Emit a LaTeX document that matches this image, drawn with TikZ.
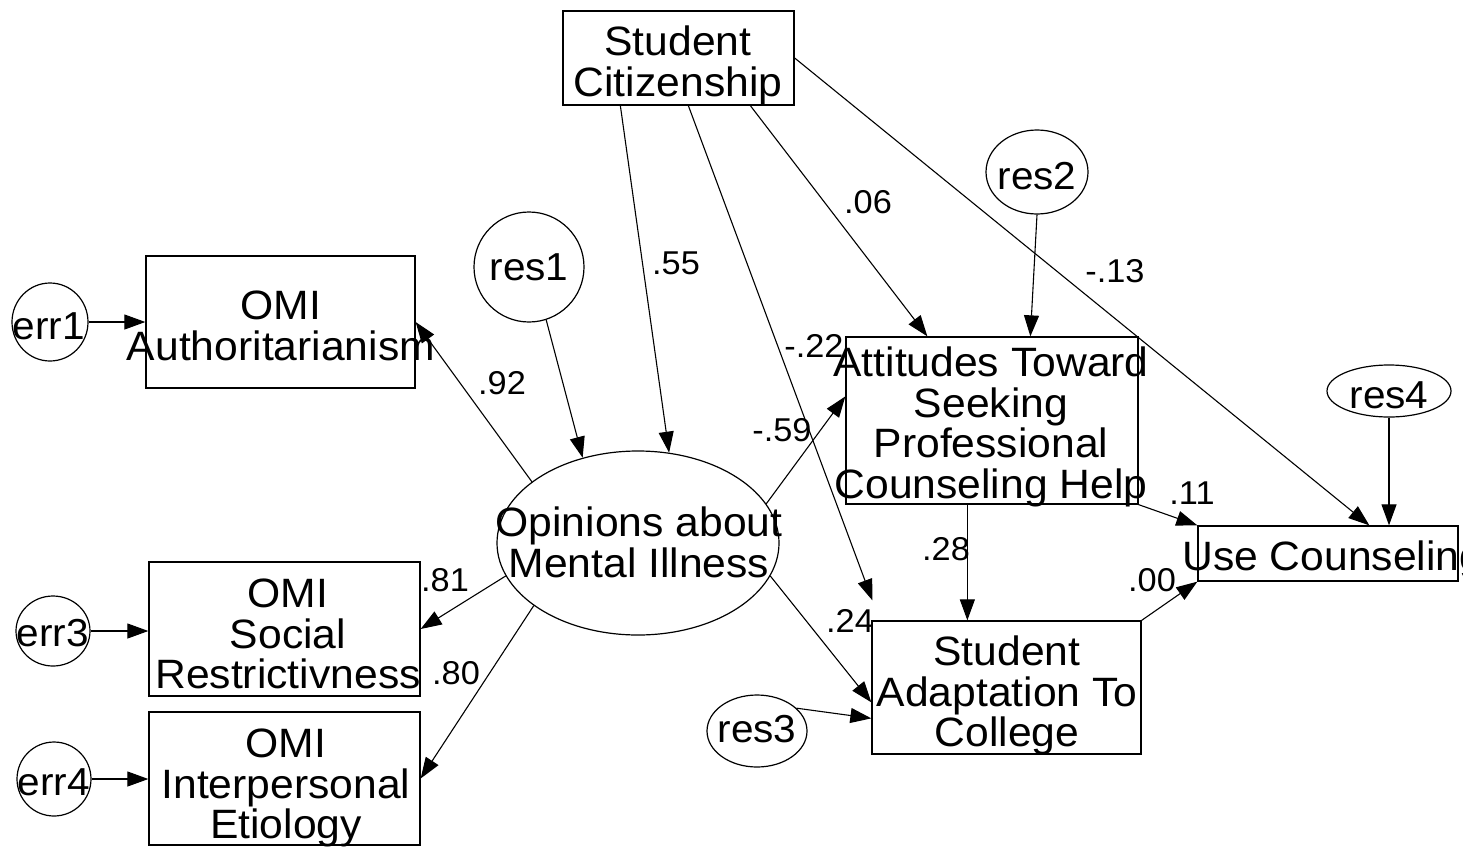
\documentclass[tikz,border=0pt]{standalone}
\usepackage{fontspec}
\setmainfont{Liberation Sans}
\newfontfamily\widesans[FakeStretch=1.04]{Liberation Sans}
\usetikzlibrary{arrows.meta,shapes.geometric,calc}
\begin{document}
\begin{tikzpicture}[x=1pt,y=-1pt,
  arr/.style={-{Triangle[length=21pt,width=15pt]}, line width=1.1pt},
  box/.style={draw, rectangle, inner sep=0pt, line width=1.3pt},
  oval/.style={draw, ellipse, inner sep=0pt, line width=1.2pt},
  boxtext/.style={inner sep=0pt, align=center, anchor=north, font=\widesans\fontsize{41}{40.5}\selectfont},
  ovaltext/.style={inner sep=0pt, font=\widesans\fontsize{39}{39}\selectfont},
  coef/.style={inner sep=0pt, font=\widesans\fontsize{33}{33}\selectfont},
]
\useasboundingbox (0,0) rectangle (1479,846);

% observed variables
\node[box, minimum width=231, minimum height=94]  (cit)   at (678.5,58)   {};
\node[box, minimum width=269, minimum height=132] (auth)  at (280.5,322)  {};
\node[box, minimum width=271, minimum height=134] (soc)   at (284.5,629)  {};
\node[box, minimum width=271, minimum height=133] (inter) at (284.5,778.5){};
\node[box, minimum width=292, minimum height=167] (att)   at (992,420.5)  {};
\node[box, minimum width=269, minimum height=133] (adapt) at (1006.5,687.5){};
\node[box, minimum width=260, minimum height=55]  (use)   at (1328,553.5) {};

% latent variable and residuals
\node[oval, minimum width=282, minimum height=184] (opin) at (638,543)  {};
\node[oval, minimum width=110, minimum height=110] (res1) at (529,267)  {};
\node[oval, minimum width=102, minimum height=84]  (res2) at (1037,172) {};
\node[oval, minimum width=100, minimum height=72]  (res3) at (757,731)  {};
\node[oval, minimum width=124, minimum height=52]  (res4) at (1389,391) {};
\node[oval, minimum width=76,  minimum height=78]  (err1) at (50,322)   {};
\node[oval, minimum width=74,  minimum height=70]  (err3) at (53,631)   {};
\node[oval, minimum width=74,  minimum height=74]  (err4) at (54,779)   {};

% box labels
\node[boxtext] (citT)   at (678,26)   {Student\\Citizenship};
\node[boxtext] (authT)  at (281,291)  {OMI\\Authoritarianism};
\node[boxtext] (socT)   at (288,579)  {OMI\\Social\\Restrictivness};
\node[boxtext] (interT) at (286,729)  {OMI\\Interpersonal\\Etiology};
\node[boxtext] (attT)   at (991,347)  {Attitudes Toward\\Seeking\\Professional\\Counseling Help};
\node[boxtext] (adaptT) at (1007,636) {Student\\Adaptation To\\College};
\node[boxtext] (opinT)  at (639,507)  {Opinions about\\Mental Illness};
\begin{scope}
  \clip (1150,520) rectangle (1462,600);
  \node[boxtext, anchor=north west] (useT) at (1182,541) {Use Counseling};
\end{scope}

% residual labels
\node[ovaltext] (err1T) at (49,326)   {err1};
\node[ovaltext] (err3T) at (53,633)   {err3};
\node[ovaltext] (err4T) at (54,782)   {err4};
\node[ovaltext] (res1T) at (529,267)  {res1};
\node[ovaltext] (res2T) at (1037,176) {res2};
\node[ovaltext] (res3T) at (757,729)  {res3};
\node[ovaltext] (res4T) at (1389,395) {res4};

% paths
\draw[arr] (err1.east) -- (err1.east -| auth.west);
\draw[arr] (err3.east) -- (err3.east -| soc.west);
\draw[arr] (err4.east) -- (err4.east -| inter.west);
\draw[arr] (opin.150) -- (auth.east);
\draw[arr] (opin.194) -- (soc.east);
\draw[arr] (opin.211) -- (inter.east);
\draw[arr] (res1.288) -- (opin.123);
\draw[arr] ($(cit.south west)+(58,0)$) -- (opin.71);
\draw[arr] ($(cit.south west)+(126,0)$) -- ($(adapt.north west)+(1,-20)$);
\draw[arr] ($(cit.south west)+(188,0)$) -- ($(att.north west)+(82,0)$);
\draw[arr] (cit.east) -- ($(use.north west)+(172,0)$);
\draw[arr] (res2.south) -- ($(att.north west)+(185,0)$);
\draw[arr] (res4.south) -- (res4.south |- use.north);
\draw[arr] (opin.17) -- ($(att.north west)+(0,60)$);
\draw[arr] (opin.346) -- ($(adapt.north west)+(0,82)$);
\draw[arr] ($(att.south west)+(122,0)$) -- ($(adapt.north west)+(96,0)$);
\draw[arr] (res3.30) -- ($(adapt.north west)+(0,98)$);
\draw[arr] (att.south east) -- (use.north west);
\draw[arr] (adapt.north east) -- (use.south west);

% path coefficients
\node[coef] (c55)  at (676,263)  {.55};
\node[coef] (c06)  at (868,202)  {.06};
\node[coef] (c13)  at (1115,271) {-.13};
\node[coef] (c92)  at (502,383)  {.92};
\node[coef] (c22)  at (814,346)  {-.22};
\node[coef] (c59)  at (782,430)  {-.59};
\node[coef] (c11)  at (1192,493) {.11};
\node[coef] (c28)  at (946,549)  {.28};
\node[coef] (c81)  at (445,580)  {.81};
\node[coef] (c24)  at (850,621)  {.24};
\node[coef] (c00)  at (1152,580) {.00};
\node[coef] (c80)  at (456,673)  {.80};
\end{tikzpicture}
\end{document}
